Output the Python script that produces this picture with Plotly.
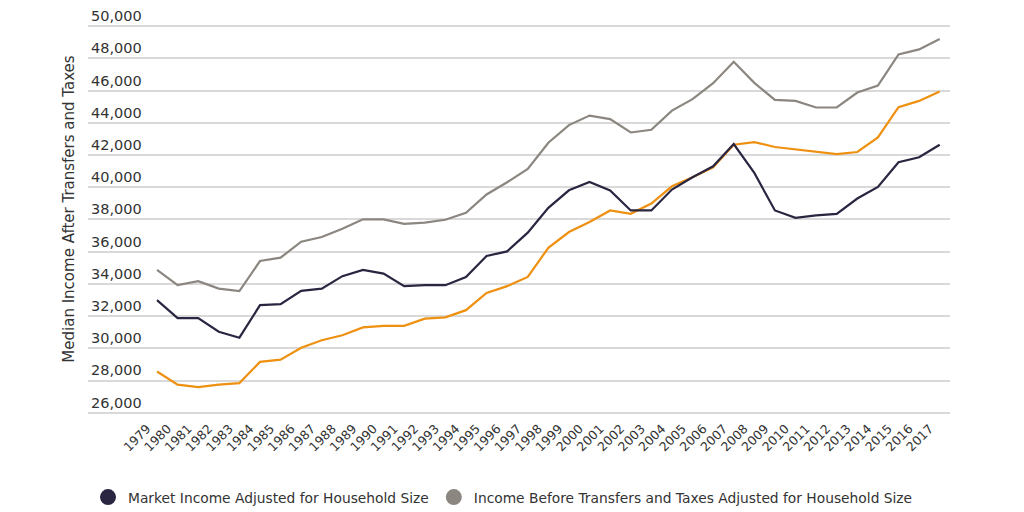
import plotly.graph_objects as go

years = list(range(1979, 2018))

market_income = [
    32990, 31880, 31880, 31030, 30660, 32680, 32740, 33570, 33710, 34480,
    34870, 34640, 33860, 33920, 33920, 34430, 35730, 36020, 37180, 38720,
    39810, 40330, 39800, 38560, 38560, 39860, 40620, 41300, 42680, 40890,
    38560, 38100, 38250, 38350, 39300, 40020, 41550, 41860, 42640,
]

before_transfers = [
    34870, 33920, 34170, 33710, 33550, 35420, 35630, 36620, 36910, 37430,
    38010, 38010, 37730, 37810, 37980, 38410, 39550, 40310, 41140, 42760,
    43860, 44450, 44230, 43400, 43570, 44760, 45470, 46460, 47790, 46480,
    45420, 45360, 44950, 44950, 45880, 46310, 48250, 48560, 49200,
]

after_transfers = [
    28560, 27750, 27590, 27750, 27840, 29160, 29300, 30040, 30500, 30810,
    31300, 31400, 31400, 31840, 31920, 32370, 33440, 33860, 34430, 36240,
    37220, 37840, 38560, 38350, 38990, 40060, 40620, 41240, 42640, 42800,
    42500, 42350, 42210, 42060, 42190, 43090, 44970, 45360, 45940,
]

y_ticks = list(range(26000, 50001, 2000))

navy = "#2a2540"
gray = "#8b867f"
orange = "#ee9010"
font_family = "'DejaVu Sans', 'Liberation Sans', sans-serif"
text_color = "#333333"

fig = go.Figure()

fig.add_trace(go.Scatter(x=years, y=before_transfers, mode="lines",
                         line=dict(color=gray, width=2.2), showlegend=False,
                         name="Income Before Transfers and Taxes Adjusted for Household Size"))
fig.add_trace(go.Scatter(x=years, y=after_transfers, mode="lines",
                         line=dict(color=orange, width=2.2), showlegend=False,
                         name="Income After Transfers and Taxes Adjusted for Household Size"))
fig.add_trace(go.Scatter(x=years, y=market_income, mode="lines",
                         line=dict(color=navy, width=2.2), showlegend=False,
                         name="Market Income Adjusted for Household Size"))

# legend entries (circle markers)
fig.add_trace(go.Scatter(x=[None], y=[None], mode="markers",
                         marker=dict(color=navy, size=19, symbol="circle"),
                         name="Market Income Adjusted for Household Size"))
fig.add_trace(go.Scatter(x=[None], y=[None], mode="markers",
                         marker=dict(color=gray, size=19, symbol="circle"),
                         name="Income Before Transfers and Taxes Adjusted for Household Size"))

fig.update_layout(
    width=1024, height=512,
    margin=dict(l=88, r=74, t=1.8, b=95.6, autoexpand=False),
    paper_bgcolor="white", plot_bgcolor="white",
    font=dict(family=font_family, color=text_color, size=14),
    legend=dict(orientation="h", x=0.0, xanchor="left",
                yref="container", y=0.029, yanchor="middle",
                font=dict(size=13.8, color=text_color), itemsizing="trace",
                traceorder="normal"),
    xaxis=dict(
        range=[1975.65, 2017.5], automargin=False,
        tickmode="array", tickvals=years, ticktext=[str(y) for y in years],
        tickangle=-45, tickfont=dict(size=12.5, color=text_color),
        ticklabelshift=-10, ticklabelstandoff=2,
        showgrid=False, zeroline=False, showline=False, ticks="",
    ),
    yaxis=dict(
        range=[25800, 51500], automargin=False,
        tickmode="array", tickvals=y_ticks,
        ticktext=[f"{v:,}" for v in y_ticks],
        ticklabelposition="inside top",
        tickfont=dict(size=14.5, color=text_color),
        showgrid=True, gridcolor="#d9d9d9", gridwidth=1.5,
        zeroline=False, showline=False, ticks="",
        title=dict(text="Median Income After Transfers and Taxes",
                   font=dict(size=15, color=text_color), standoff=12),
    ),
)

fig.write_html("out.html", config={"displayModeBar": False},
               post_script="document.body.style.margin='0';document.body.style.padding='0';")
